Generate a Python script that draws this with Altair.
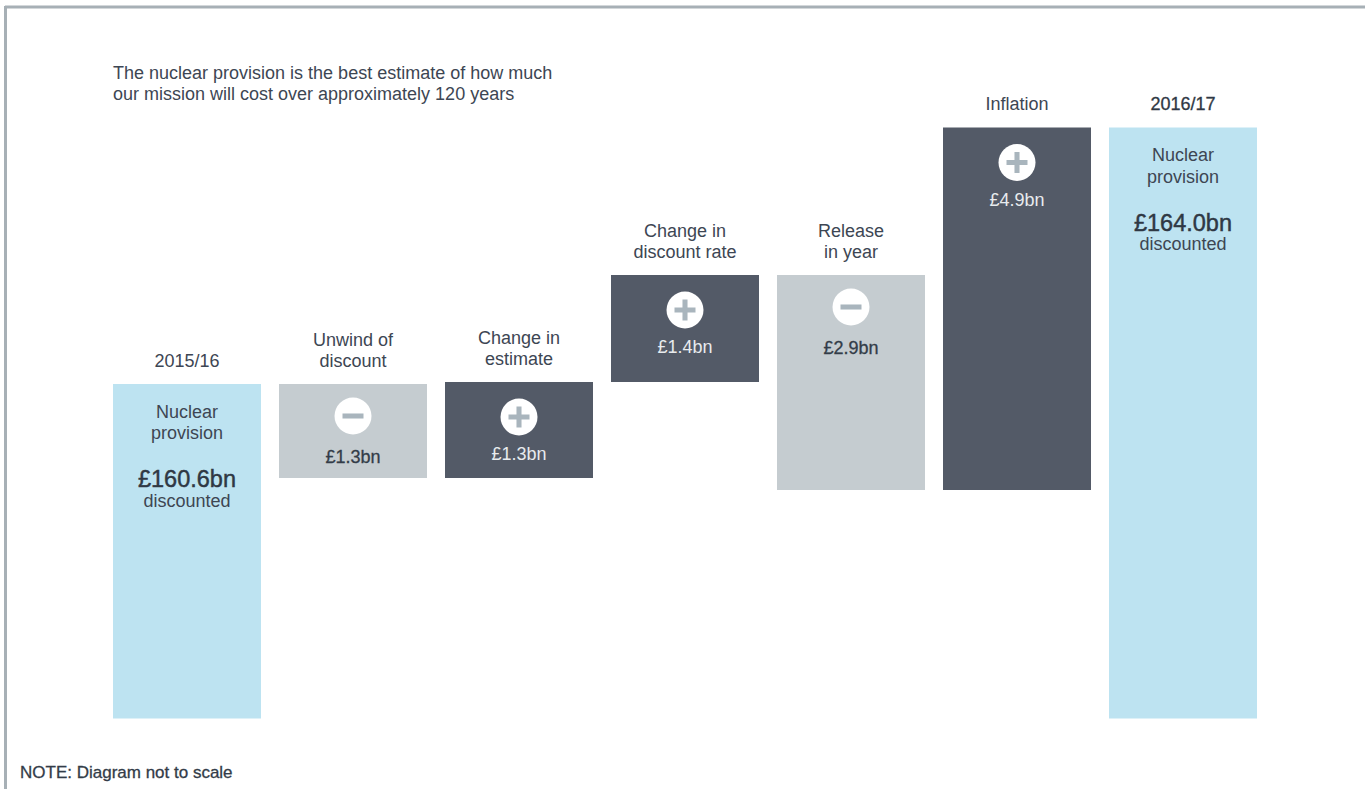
import altair as alt
import pandas as pd

# Steps of the nuclear provision walk, 2015/16 to 2016/17
heading_upper = ["", "Unwind of", "Change in", "Change in", "Release", "", ""]
heading_lower = ["2015/16", "discount", "estimate", "discount rate", "in year", "Inflation", "2016/17"]
kinds = ["total", "minus", "plus", "plus", "minus", "plus", "total"]
amounts = [160.6, 1.3, 1.3, 1.4, 2.9, 4.9, 164.0]

# The diagram is not to scale, so block extents are in diagram units rather than £bn
block_low = [0, 240.5, 240.5, 336.5, 228.5, 228.5, 0]
block_high = [334.5, 334.5, 336.5, 443.5, 443.5, 591, 591]

intro_lines = ["The nuclear provision is the best estimate of how much",
               "our mission will cost over approximately 120 years"]
footnote = "NOTE: Diagram not to scale"

FONT = "Liberation Sans"
INK = "#3d4653"
DARK_INK = "#2f3844"
COLORS = {"total": "#bde3f1", "minus": "#c5ccd0", "plus": "#535a67"}
VALUE_INK = {"minus": "#333c48", "plus": "#e8ebee"}
GLYPH = "#a9b5bd"
MINUS_PATH = "M-1,-0.24H1V0.24H-1Z"
PLUS_PATH = "M-1,-0.24H-0.24V-1H0.24V-0.24H1V0.24H0.24V1H-0.24V0.24H-1Z"

df = pd.DataFrame({
    "step": [f"s{i}" for i in range(len(heading_lower))],
    "upper": heading_upper,
    "lower": heading_lower,
    "kind": kinds,
    "amount": amounts,
    "low": block_low,
    "high": block_high,
})
df["value_label"] = df["amount"].map(lambda v: f"£{v:.1f}bn")
df["line_a"] = "Nuclear"
df["line_b"] = "provision"
df["note"] = "discounted"

steps = df["step"].tolist()
x_enc = alt.X("step:N", axis=None, sort=steps,
              scale=alt.Scale(domain=steps, paddingInner=18 / 166, paddingOuter=0))
y_scale = alt.Scale(domain=[0, 700], range=[700, 0])
top = alt.Y("high:Q", axis=None, scale=y_scale)
base = alt.Chart(df).encode(x=x_enc)

blocks = base.mark_bar(cornerRadius=0).encode(
    y=top,
    y2="low:Q",
    color=alt.Color("kind:N", legend=None,
                    scale=alt.Scale(domain=list(COLORS), range=list(COLORS.values()))),
)


def label(source, field, offset, size=18, color=INK, **extra):
    """Centred text hung a fixed distance from the top of each block."""
    return source.mark_text(font=FONT, fontSize=size, color=color, baseline="middle",
                            yOffset=offset, **extra).encode(y=top, text=f"{field}:N")


totals = base.transform_filter("datum.kind == 'total'")
deltas = base.transform_filter("datum.kind != 'total'")
minus_steps = base.transform_filter("datum.kind == 'minus'")
plus_steps = base.transform_filter("datum.kind == 'plus'")

heading_a = label(base, "upper", -43)
heading_b = label(base.transform_filter("datum.step != 's6'"), "lower", -22.5)
heading_last = label(base.transform_filter("datum.step == 's6'"), "lower", -22.5,
                     color=DARK_INK, stroke=DARK_INK, strokeWidth=0.3)

provision_a = label(totals, "line_a", 28.5)
provision_b = label(totals, "line_b", 50)
total_value = label(totals, "value_label", 96, size=23.5, color=DARK_INK,
                    stroke=DARK_INK, strokeWidth=0.45)
total_note = label(totals, "note", 117.5)

badge_minus = minus_steps.mark_point(filled=True, shape="circle", size=1369, color="white",
                                     opacity=1, yOffset=32).encode(y=top)
badge_plus = plus_steps.mark_point(filled=True, shape="circle", size=1369, color="white",
                                   opacity=1, yOffset=35).encode(y=top)
minus_sign = minus_steps.mark_point(filled=True, shape=MINUS_PATH, size=441, color=GLYPH,
                                    opacity=1, yOffset=32).encode(y=top)
plus_sign = plus_steps.mark_point(filled=True, shape=PLUS_PATH, size=441, color=GLYPH,
                                  opacity=1, yOffset=35).encode(y=top)
value_minus = label(minus_steps, "value_label", 73.5, color=VALUE_INK["minus"],
                    stroke=VALUE_INK["minus"], strokeWidth=0.3)
value_plus = label(plus_steps, "value_label", 73, color=VALUE_INK["plus"])

# Page furniture, placed relative to the plot origin
ORIGIN_X, ORIGIN_Y = 113, 18.5
frame_color = "#a7b0b6"
frame_top = alt.Chart(pd.DataFrame({"k": [0]})).mark_rule(color=frame_color, strokeWidth=3).encode(
    x=alt.value(5 - ORIGIN_X), x2=alt.value(1365 - ORIGIN_X), y=alt.value(7 - ORIGIN_Y))
frame_left = alt.Chart(pd.DataFrame({"k": [0]})).mark_rule(color=frame_color, strokeWidth=3).encode(
    x=alt.value(5.5 - ORIGIN_X), y=alt.value(6 - ORIGIN_Y), y2=alt.value(789 - ORIGIN_Y))

intro = [
    alt.Chart(pd.DataFrame({"t": [line]})).mark_text(
        font=FONT, fontSize=18, color=INK, align="left", baseline="middle").encode(
        x=alt.value(0), y=alt.value(py - ORIGIN_Y), text="t:N")
    for line, py in zip(intro_lines, [73.5, 94.5])
]
note = alt.Chart(pd.DataFrame({"t": [footnote]})).mark_text(
    font=FONT, fontSize=17, color="#333c48", align="left", baseline="middle",
    stroke="#333c48", strokeWidth=0.3).encode(
    x=alt.value(20 - ORIGIN_X), y=alt.value(772.5 - ORIGIN_Y), text="t:N")

chart = alt.layer(
    frame_top, frame_left, blocks, heading_a, heading_b, heading_last,
    provision_a, provision_b, total_value, total_note,
    badge_minus, badge_plus, minus_sign, plus_sign, value_minus, value_plus, *intro, note,
).properties(
    width=1144,
    height=700,
    autosize=alt.AutoSizeParams(type="none"),
    padding={"left": 113, "top": 18.5, "right": 108, "bottom": 70.5},
    background="white",
).configure_view(stroke=None)

chart.save("out.html", embed_options={"renderer": "svg", "actions": False})
